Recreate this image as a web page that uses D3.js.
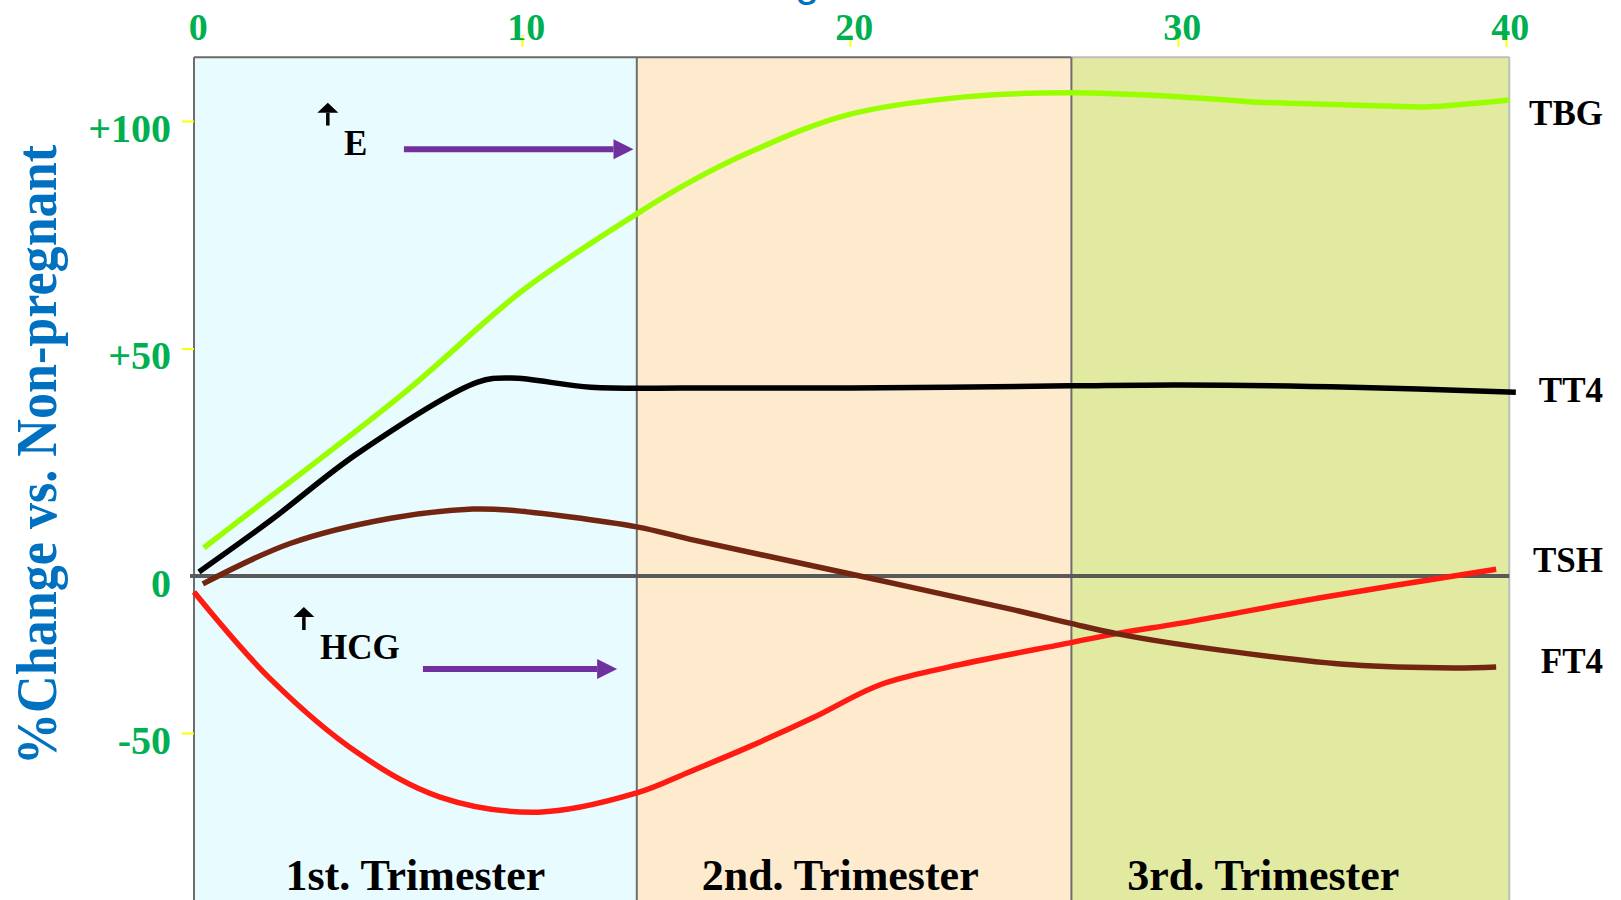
<!DOCTYPE html>
<html>
<head>
<meta charset="utf-8">
<script src="https://cdn.jsdelivr.net/npm/d3@7"></script>
<style>
  body { margin: 0; background: #fff; }
  svg { display: block; }
  .serif { font-family: "Times New Roman", "Liberation Serif", serif; font-weight: bold; }
</style>
</head>
<body>
<div id="chart"></div>
<script>
// data: weeks of gestation vs % change against non-pregnant
var weekTicks = [0, 10, 20, 30, 40];
var pctTicks = [-50, 0, 50, 100];
var pctLabels = ["-50", "0", "+50", "+100"];

var trimesterNames = ["1st. Trimester", "2nd. Trimester", "3rd. Trimester"];
var trimesterStart = [0, 13.5, 26.75];
var trimesterEnd = [13.5, 26.75, 40.1];
var trimesterLabelWeek = [6.75, 19.7, 32.6];

var seriesNames = ["TBG", "TT4", "TSH", "FT4"];
var seriesLabelValue = [101.5, 40.6, 3.3, -27.4];

var tbg = [[0.3, 6.2], [1.4, 12.3], [6.4, 40.2], [10.05, 62.9], [13.5, 79.6],
  [15.1, 86.5], [16.9, 93], [19.9, 101.3], [23.5, 105.3], [26.7, 106.2], [30.1, 105.3],
  [32.3, 104.2], [36.4, 103.3], [37.6, 103.1], [40.1, 104.6]];

var tt4 = [[0.15, 0.9], [2.35, 12.3], [5, 27], [8.65, 42.6], [9.66, 43.5], [12.1, 41.5],
  [15.1, 41.3], [20, 41.3], [26.7, 41.8], [30.1, 42], [35.3, 41.5], [40.3, 40.4]];

var tsh = [[0, -5.1], [2.35, -33], [5, -56.4], [7.5, -70.4], [10.5, -75.2], [13.5, -69.1],
  [15.1, -62.4], [16.9, -54.5], [18.9, -45], [20.9, -34.7], [23, -29], [26.7, -21.3],
  [28.2, -18.2], [30.1, -15], [34.3, -7], [39.7, 1.5]];

var ft4 = [[0.27, -2.5], [2.95, 7.2], [6, 12.7], [8.5, 14.7], [9.56, 14.5], [13.5, 10.8],
  [15.1, 8.1], [20.3, 0], [25, -10.8], [26.7, -15], [28.2, -18.5], [31.3, -23.6],
  [35.3, -28.3], [38.4, -29.3], [39.7, -29]];

// annotations: [week, %]
var eArrowUp = [[4.08, 99], [4.08, 104]];
var eLabel = [4.57, 92.5];
var eArrow = [[6.4, 93.8], [13.4, 93.8]];
var hcgArrowUp = [[3.35, -17.2], [3.35, -9.9]];
var hcgLabel = [3.84, -26.4];
var hcgArrow = [[6.98, -29.6], [12.9, -29.6]];

// styles
var trimesterFill = ["#e8fbfe", "#feebcd", "#e2eaa1"];
var seriesColor = ["#99ff00", "#000000", "#ff1a12", "#722612"];
var green = "#00b050";

var width = 1621, height = 900;

var svg = d3.select("#chart")
  .append("svg")
  .attr("width", width)
  .attr("height", height);

// x: weeks, y: piecewise (the slide's axis is squeezed below zero)
var x = d3.scaleLinear().domain([0, 40]).range([194, 1506]);
var y = d3.scaleLinear().domain([-50, 0, 100]).range([733, 576, 121]);

var yTop = y(114), yBottom = y(-105);

// trimester backgrounds
var tri = svg.append("g");
trimesterNames.forEach(function (name, i) {
  tri.append("rect")
    .attr("x", x(trimesterStart[i]))
    .attr("y", yTop)
    .attr("width", x(trimesterEnd[i]) - x(trimesterStart[i]))
    .attr("height", yBottom - yTop)
    .attr("fill", trimesterFill[i]);
});

// borders
tri.append("line")
  .attr("x1", x(0)).attr("x2", x(26.75))
  .attr("y1", yTop).attr("y2", yTop)
  .attr("stroke", "#6a6a6a").attr("stroke-width", 2);
tri.append("line")
  .attr("x1", x(26.75)).attr("x2", x(40.1))
  .attr("y1", yTop).attr("y2", yTop)
  .attr("stroke", "#bdbdbd").attr("stroke-width", 2);
tri.append("line")
  .attr("x1", x(40.1)).attr("x2", x(40.1))
  .attr("y1", yTop).attr("y2", yBottom)
  .attr("stroke", "#bdbdbd").attr("stroke-width", 2);
[0, 13.5, 26.75].forEach(function (w) {
  tri.append("line")
    .attr("x1", x(w)).attr("x2", x(w))
    .attr("y1", yTop).attr("y2", yBottom)
    .attr("stroke", "#6d6d6d").attr("stroke-width", 2);
});

// zero line
svg.append("line")
  .attr("x1", x(-0.12)).attr("x2", x(40.1))
  .attr("y1", y(0)).attr("y2", y(0))
  .attr("stroke", "#595959").attr("stroke-width", 4);

// top axis (weeks)
var xAxis = svg.append("g")
  .attr("transform", "translate(0,47)")
  .call(d3.axisTop(x).tickValues(weekTicks).tickSize(12).tickPadding(-5).tickFormat(d3.format("d")));
xAxis.select(".domain").remove();
xAxis.selectAll(".tick line").attr("stroke", "#ffff00").attr("stroke-width", 2)
  .filter(function (d) { return d === 0; }).remove();
xAxis.selectAll("text")
  .attr("class", "serif")
  .attr("dx", "0.1em")
  .style("font-size", "38px")
  .attr("fill", green);

// left axis (% change)
var yAxis = svg.append("g")
  .attr("transform", "translate(" + x(0) + ",0)")
  .call(d3.axisLeft(y).tickValues(pctTicks).tickSize(12).tickPadding(11)
    .tickFormat(function (d, i) { return pctLabels[i]; }));
yAxis.select(".domain").remove();
yAxis.selectAll(".tick line").attr("stroke", "#ffff00").attr("stroke-width", 2)
  .filter(function (d) { return d === 0; }).remove();
yAxis.selectAll("text")
  .attr("class", "serif")
  .attr("dy", "0.5em")
  .style("font-size", "40px")
  .attr("fill", green);

// y title
svg.append("text")
  .attr("class", "serif")
  .attr("transform", "translate(56,455) rotate(-90)")
  .attr("text-anchor", "middle")
  .attr("textLength", 620)
  .attr("lengthAdjust", "spacingAndGlyphs")
  .style("font-size", "56px")
  .attr("fill", "#0070c0")
  .text("%Change vs. Non-pregnant");

// title, mostly cut off above the top of the picture (as in the slide)
var title = svg.append("text")
  .attr("y", -4)
  .style("font-family", "Arial, 'Liberation Sans', sans-serif")
  .style("font-size", "44px")
  .attr("fill", "#0070c0")
  .text("Weeks of gestation");
var gOffset = title.node().getSubStringLength(0, 9);
title.attr("x", 795 - gOffset);

// curves
var line = d3.line()
  .x(function (d) { return x(d[0]); })
  .y(function (d) { return y(d[1]); })
  .curve(d3.curveCatmullRom.alpha(0.5));

var allSeries = [tbg, tt4, tsh, ft4];
allSeries.forEach(function (s, i) {
  svg.append("path")
    .datum(s)
    .attr("fill", "none")
    .attr("stroke", seriesColor[i])
    .attr("stroke-width", 5.5)
    .attr("d", line);
});

// series names at the right
seriesNames.forEach(function (name, i) {
  svg.append("text")
    .attr("class", "serif")
    .attr("x", 1603)
    .attr("y", y(seriesLabelValue[i]))
    .attr("dy", "0.32em")
    .attr("text-anchor", "end")
    .style("font-size", "35px")
    .attr("fill", "#000")
    .text(name);
});

// trimester names
trimesterNames.forEach(function (name, i) {
  svg.append("text")
    .attr("class", "serif")
    .attr("x", x(trimesterLabelWeek[i]))
    .attr("y", y(-100))
    .attr("text-anchor", "middle")
    .style("font-size", "44px")
    .attr("fill", "#000")
    .text(name);
});

// arrows
function arrow(p, color, shaft, headLen, headW) {
  var x1 = x(p[0][0]), y1 = y(p[0][1]), x2 = x(p[1][0]), y2 = y(p[1][1]);
  var len = Math.hypot(x2 - x1, y2 - y1);
  var ux = (x2 - x1) / len, uy = (y2 - y1) / len;
  var bx = x2 - ux * headLen, by = y2 - uy * headLen;
  svg.append("line")
    .attr("x1", x1).attr("y1", y1).attr("x2", bx).attr("y2", by)
    .attr("stroke", color).attr("stroke-width", shaft);
  svg.append("path")
    .attr("d", "M" + x2 + "," + y2 +
      "L" + (bx - uy * headW / 2) + "," + (by + ux * headW / 2) +
      "L" + (bx + uy * headW / 2) + "," + (by - ux * headW / 2) + "Z")
    .attr("fill", color);
}

arrow(eArrowUp, "#000", 3.5, 10, 21);
arrow(hcgArrowUp, "#000", 3.5, 10, 21);
arrow(eArrow, "#7030a0", 6, 20, 20);
arrow(hcgArrow, "#7030a0", 6, 20, 20);

svg.append("text")
  .attr("class", "serif")
  .attr("x", x(eLabel[0])).attr("y", y(eLabel[1]))
  .style("font-size", "35px")
  .text("E");
svg.append("text")
  .attr("class", "serif")
  .attr("x", x(hcgLabel[0])).attr("y", y(hcgLabel[1]))
  .style("font-size", "35px")
  .text("HCG");
</script>
</body>
</html>
